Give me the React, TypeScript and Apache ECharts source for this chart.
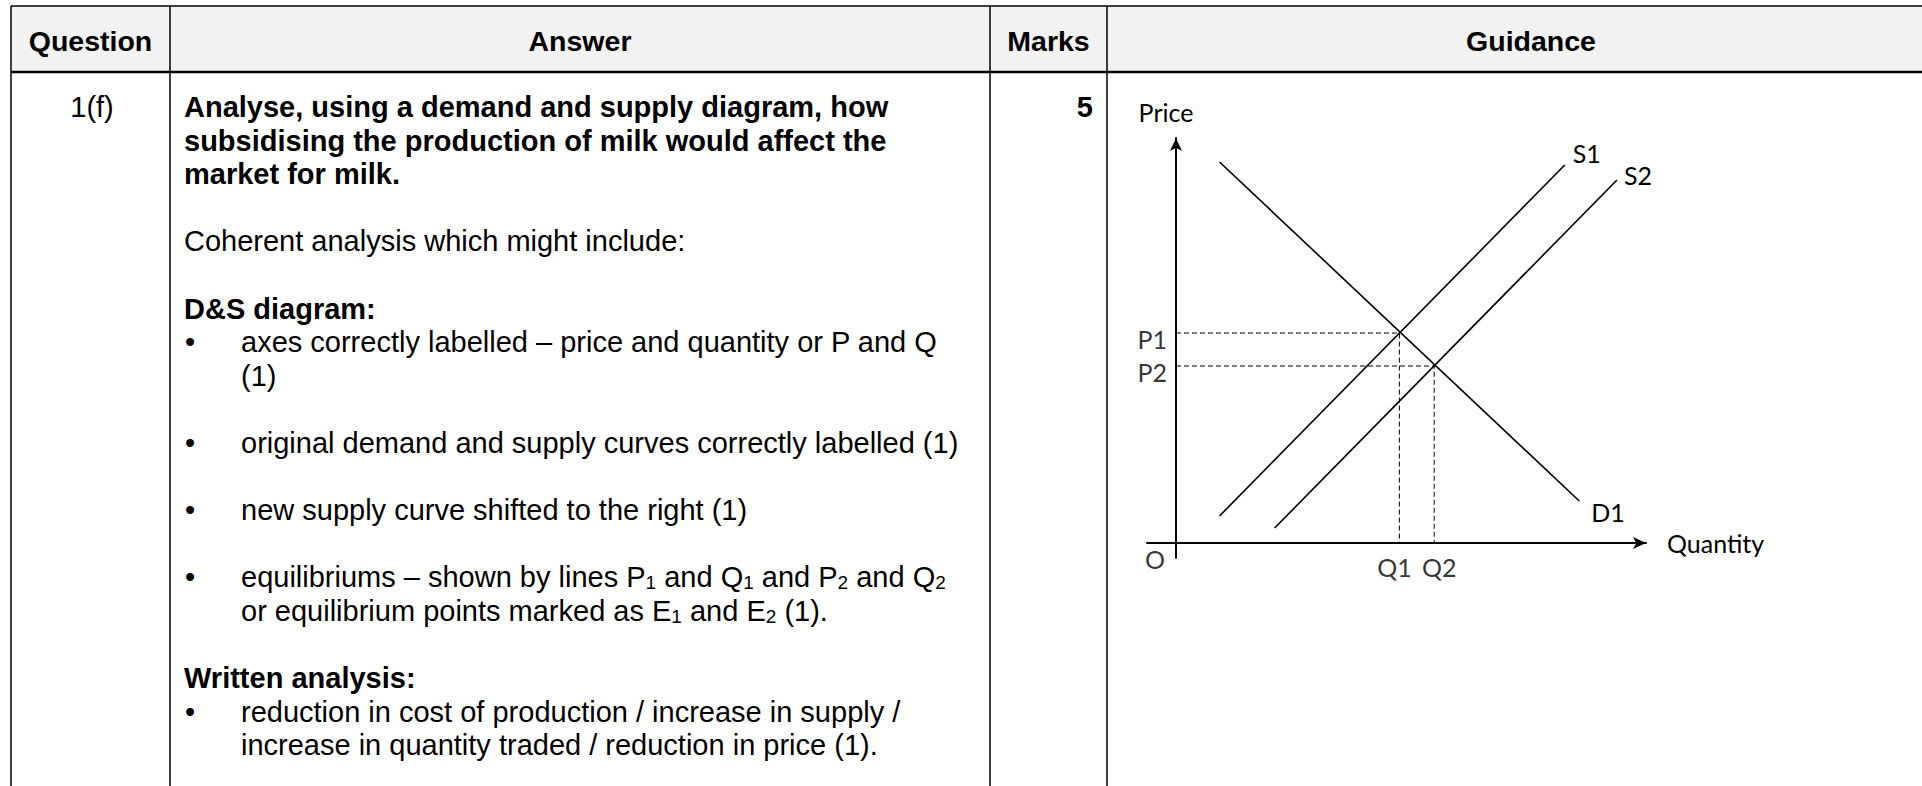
import React, { useEffect, useRef } from 'react';
import * as echarts from 'echarts';

// ---------- table content ----------
const headers = ['Question', 'Answer', 'Marks', 'Guidance'];
const questionIds = ['1(f)'];
const markValues = ['5'];
const questionLines = [
  'Analyse, using a demand and supply diagram, how',
  'subsidising the production of milk would affect the',
  'market for milk.',
];
const introLine = 'Coherent analysis which might include:';
const diagramHeading = 'D&S diagram:';
const diagramBullets = [
  ['axes correctly labelled – price and quantity or P and Q', '(1)'],
  ['original demand and supply curves correctly labelled (1)'],
  ['new supply curve shifted to the right (1)'],
  [
    'equilibriums – shown by lines P{s|1} and Q{s|1} and P{s|2} and Q{s|2}',
    'or equilibrium points marked as E{s|1} and E{s|2} (1).',
  ],
];
const writtenHeading = 'Written analysis:';
const writtenBullets = [
  [
    'reduction in cost of production / increase in supply /',
    'increase in quantity traded / reduction in price (1).',
  ],
];

// ---------- diagram data (abstract price / quantity units) ----------
const curveNames = ['D1', 'S1', 'S2'];
const demandD1 = [[1.5, 12.7], [13.9, 1.4]];
const supplyS1 = [[1.5, 0.9], [13.4, 12.6]];
const supplyS2 = [[3.4, 0.5], [15.2, 12.1]];
const priceLabels = ['P1', 'P2'];
const priceLevels = [7.0, 5.9];
const quantityLabels = ['Q1', 'Q2'];
const quantityLevels = [7.7, 8.9];
const axisNames = ['Quantity', 'Price'];
const originLabel = 'O';

// ---------- layout ----------
const W = 1922;
const H = 786;
const X0 = 11;
const COLS = [170, 990, 1107];
const X_RIGHT = 1955;
const Y_TOP = 6;
const Y_HEAD = 72;
const LINE0 = 107;
const PITCH = 33.6;
const FONT = '"Liberation Sans", Arial, sans-serif';
const DFONT = 'Lato, "Open Sans", sans-serif';
const ANS_X = 184;
const BULLET_X = 185;
const BULLET_TEXT_X = 241;

function textEl(text: string, x: number, y: number, opts: any = {}) {
  return {
    type: 'text',
    x,
    y,
    silent: true,
    style: {
      text,
      fill: '#000',
      fontSize: opts.size || 29,
      fontFamily: FONT,
      fontWeight: opts.bold ? 'bold' : 'normal',
      align: opts.align || 'left',
      verticalAlign: 'middle',
      textAlign: opts.align || 'left',
      textVerticalAlign: 'middle',
      rich: {
        s: {
          fontSize: 19,
          fontFamily: FONT,
          fontWeight: opts.bold ? 'bold' : 'normal',
          fill: '#000',
          verticalAlign: 'bottom',
          lineHeight: 16,
        },
      },
    },
  };
}

function lineEl(x1: number, y1: number, x2: number, y2: number, w = 1.5) {
  return {
    type: 'line',
    silent: true,
    shape: { x1, y1, x2, y2 },
    style: { stroke: '#000', lineWidth: w },
  };
}

function buildGraphics() {
  const els: any[] = [];
  els.push({
    type: 'rect',
    silent: true,
    shape: { x: X0, y: Y_TOP, width: W - X0, height: Y_HEAD - Y_TOP },
    style: { fill: '#f2f2f2' },
  });
  els.push(lineEl(X0, Y_TOP, W, Y_TOP));
  els.push(lineEl(X0, Y_HEAD, W, Y_HEAD, 2.6));
  els.push(lineEl(X0, Y_TOP, X0, H));
  COLS.forEach((c) => els.push(lineEl(c, Y_TOP, c, H)));

  const bounds = [X0, ...COLS, X_RIGHT];
  headers.forEach((h, i) => {
    const cx = (bounds[i] + bounds[i + 1]) / 2;
    els.push(textEl(h, cx, 41, { bold: true, align: 'center', size: 28.5 }));
  });

  const rowY = (r: number) => LINE0 + r * PITCH;
  questionIds.forEach((q, i) => els.push(textEl(q, 92, rowY(i), { align: 'center' })));
  markValues.forEach((m, i) => els.push(textEl(m, 1093, rowY(i), { bold: true, align: 'right' })));

  let row = 0;
  questionLines.forEach((t) => els.push(textEl(t, ANS_X, rowY(row++), { bold: true })));
  row++;
  els.push(textEl(introLine, ANS_X, rowY(row++)));
  row++;
  els.push(textEl(diagramHeading, ANS_X, rowY(row++), { bold: true }));
  diagramBullets.forEach((b, bi) => {
    if (bi > 0) row++;
    els.push(textEl('•', BULLET_X, rowY(row)));
    b.forEach((t) => els.push(textEl(t, BULLET_TEXT_X, rowY(row++))));
  });
  row++;
  els.push(textEl(writtenHeading, ANS_X, rowY(row++), { bold: true }));
  writtenBullets.forEach((b, bi) => {
    if (bi > 0) row++;
    els.push(textEl('•', BULLET_X, rowY(row)));
    b.forEach((t) => els.push(textEl(t, BULLET_TEXT_X, rowY(row++))));
  });
  return els;
}

const labelFont = { fontFamily: DFONT, fontSize: 25, color: '#000' };

function curveSeries(name: string, data: number[][], offset: number[], distance: number) {
  return {
    type: 'line',
    name,
    data,
    symbol: 'none',
    silent: true,
    lineStyle: { color: '#000', width: 1.6 },
    endLabel: { show: true, formatter: name, distance, offset, ...labelFont },
  };
}

function buildOption() {
  const gridLeft = 1147;
  const gridRight = 1646;
  const gridTop = 138;
  const gridBottom = 558;
  const series: any[] = [
    curveSeries(curveNames[0], demandD1, [0, 11], 12),
    curveSeries(curveNames[1], supplyS1, [0, -12], 8),
    curveSeries(curveNames[2], supplyS2, [0, -5], 7),
  ];
  priceLevels.forEach((p, i) => {
    series.push({
      type: 'line',
      data: [[0, p], [quantityLevels[i], p], [quantityLevels[i], 0]],
      symbol: 'none',
      silent: true,
      lineStyle: { color: '#000', width: 1, type: [5, 3] },
    });
  });
  series.push({
    type: 'scatter',
    symbolSize: 0,
    silent: true,
    data: priceLevels.map((p, i) => ({ value: [0, p], name: priceLabels[i] })),
    label: { show: true, position: 'left', distance: 9, offset: [0, 6], formatter: '{b}', ...labelFont },
  });
  series.push({
    type: 'scatter',
    symbolSize: 0,
    silent: true,
    data: quantityLevels.map((q, i) => ({
      value: [q, 0],
      name: quantityLabels[i],
      label: { offset: [i === 0 ? -5 : 5, 0] },
    })),
    label: { show: true, position: 'bottom', distance: 11, formatter: '{b}', ...labelFont },
  });
  series.push({
    type: 'scatter',
    symbolSize: 0,
    silent: true,
    data: [{ value: [0, 0], name: originLabel }],
    label: { show: true, position: 'bottom', distance: 3, offset: [-21, 0], formatter: '{b}', ...labelFont },
  });

  const axisCommon = {
    type: 'value',
    axisTick: { show: false },
    axisLabel: { show: false },
    splitLine: { show: false },
    axisLine: {
      show: true,
      onZero: true,
      symbol: ['none', 'arrow'],
      symbolSize: [9, 13],
      lineStyle: { color: '#000', width: 2 },
    },
  };

  return {
    animation: false,
    backgroundColor: '#fff',
    graphic: { elements: buildGraphics() },
    grid: {
      left: gridLeft,
      right: W - gridRight,
      top: gridTop,
      bottom: H - gridBottom,
      containLabel: false,
    },
    xAxis: {
      ...axisCommon,
      min: -1,
      max: 16.2,
      name: axisNames[0],
      nameLocation: 'end',
      nameGap: 21,
      nameTextStyle: { ...labelFont },
    },
    yAxis: {
      ...axisCommon,
      min: -0.5,
      max: 13.5,
      name: axisNames[1],
      nameLocation: 'end',
      nameGap: 14,
      nameTextStyle: { ...labelFont, padding: [0, 20, 0, 0] },
    },
    series,
  };
}

export default function App() {
  const ref = useRef<HTMLDivElement>(null);
  useEffect(() => {
    const chart = echarts.init(ref.current as HTMLDivElement, null, { renderer: 'svg' });
    chart.setOption(buildOption() as any);
    return () => chart.dispose();
  }, []);
  return (
    <div
      ref={ref}
      style={{ position: 'fixed', left: 0, top: 0, width: W, height: H, background: '#fff' }}
    />
  );
}
